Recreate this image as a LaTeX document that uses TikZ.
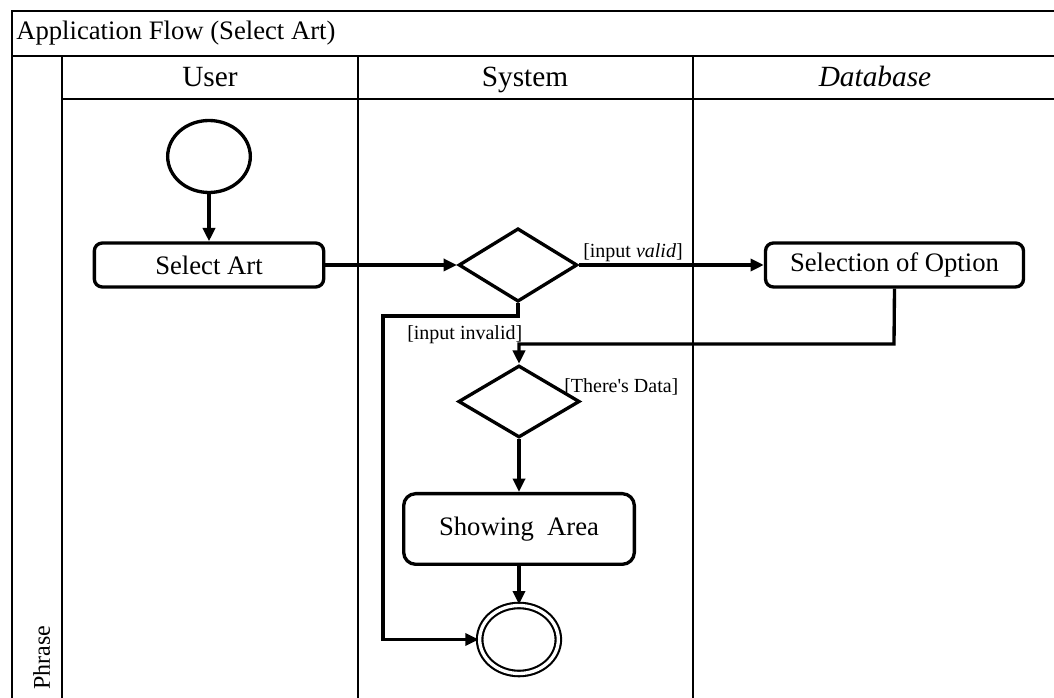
\documentclass[tikz,border=0pt]{standalone}
\usepackage{fontspec}
\setmainfont{Liberation Serif}
\usetikzlibrary{arrows.meta, shapes.geometric}

\tikzset{
  lane/.style={line width=1.6pt},
  head/.style={anchor=base, inner sep=0pt, font=\fontsize{22}{26}\selectfont},
  act/.style={draw, line width=2.5pt, rounded corners=6pt, inner sep=0pt,
    minimum height=33pt, font=\fontsize{20}{24}\selectfont},
  choice/.style={draw, diamond, line width=2.5pt, inner sep=0pt},
  state/.style={draw, ellipse, line width=2.5pt, inner sep=0pt,
    minimum width=62pt, minimum height=54pt},
  flow/.style={line width=2.5pt, -{Triangle[length=10pt,width=9pt]}},
  guard/.style={inner sep=0pt, font=\fontsize{15}{18}\selectfont},
}

\begin{document}
\begin{tikzpicture}[x=0.75pt,y=-0.75pt]
% Page is 1054 x 698 units, the frame runs off the right and bottom edge
\useasboundingbox (0,0) rectangle (1054,698);
\clip (0,0) rectangle (1054,698);

% Frame, title row, header row and the three swimlanes
\draw[lane] (12,11) rectangle (1070,720);
\draw[lane] (12,56) -- (1070,56);
\draw[lane] (62,99) -- (1070,99);
\draw[lane] (62,56) -- (62,720);
\draw[lane] (358,56) -- (358,720);
\draw[lane] (693,56) -- (693,720);

% Titles
\node[anchor=west, inner sep=0pt, font=\fontsize{20}{24}\selectfont] (title) at (16,33) {Application Flow (Select Art)};
\node[head] (userhd) at (210,87) {User};
\node[head] (systemhd) at (525,87) {System};
\node[head, font=\fontsize{22}{26}\selectfont\itshape] (dbhd) at (875,87) {Database};
\node[rotate=90, anchor=base west, inner sep=0pt, font=\fontsize{18}{22}\selectfont] (phrase) at (50,690) {Phrase};

% Activities
\node[state] (start) at (209,156.5) {};
\node[act, minimum width=172pt] (select) at (209,265) {Select Art};
\node[choice, minimum width=89pt, minimum height=55pt] (check) at (518,265) {};
\node[act, minimum width=193.5pt] (option) at (894.5,265) {Selection of Option};
\node[choice, minimum width=91pt, minimum height=54pt] (data) at (519,401.5) {};
\node[act, minimum width=173pt, minimum height=53pt, rounded corners=9pt] (show) at (519,529) {Showing\ \ Area};
\node[state, line width=1.6pt, double, double distance=2.5pt, minimum width=59pt, minimum height=51pt] (stop) at (519,639.5) {};

% Bend points
\coordinate (back) at (894,344);
\coordinate (skip) at (383,316);

% Flow
\draw[flow] (start) -- (select);
\draw[flow] (select) -- (check);
\draw[flow] (check.east) -- (option.west);
\draw[flow] (option.south) -- (back) -| (data.north);
\draw[flow] (check.south) |- (skip) |- (stop.west);
\draw[flow] (data.south) -- (show.north);
\draw[flow] (show.south) -- (stop.north);

% Guards
\node[guard, anchor=south west] (valid) at (583,262) {[input \textit{valid}]};
\node[guard, anchor=north west] (invalid) at (407,325) {[input invalid]};
\node[guard, anchor=north west] (found) at (564,378) {[There\textquotesingle s Data]};
\end{tikzpicture}
\end{document}
